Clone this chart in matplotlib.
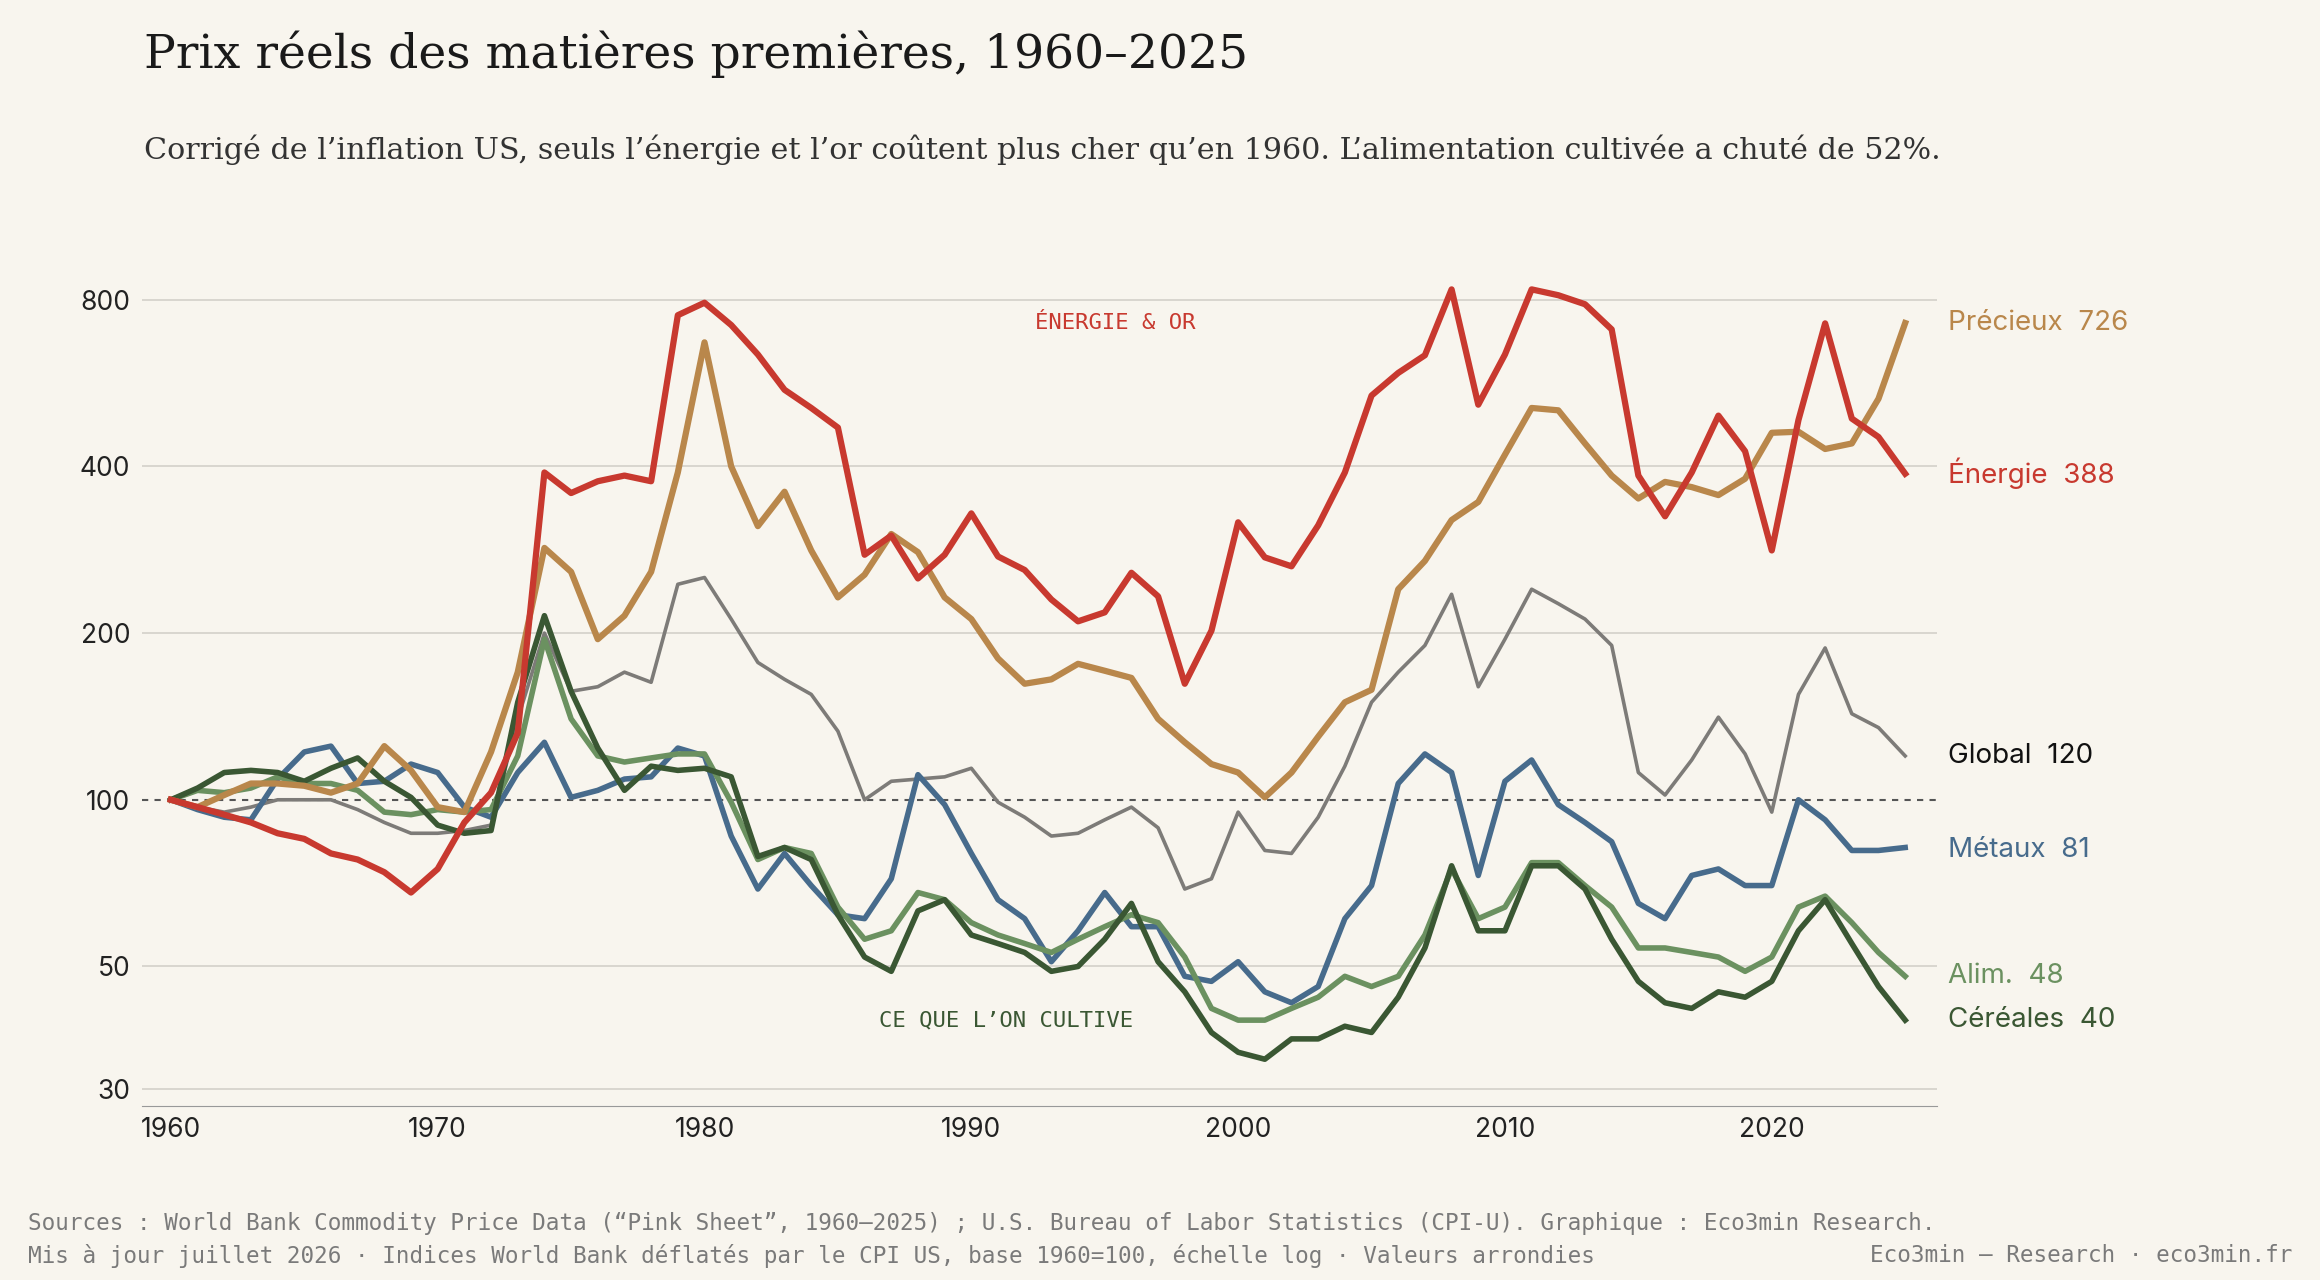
import matplotlib.pyplot as plt

years = list(range(1960, 2026))

energie = [100, 97, 94, 91, 87, 85, 80, 78, 74, 68, 75, 91, 103, 132, 390, 358, 376, 385, 376, 750,
           790, 720, 637, 550, 510, 470, 277, 300, 251, 277, 329, 275, 260, 230, 210, 218, 257, 233, 162, 202,
           317, 274, 264, 313, 390, 537, 590, 635, 835, 517, 637, 835, 815, 785, 707, 385, 325, 390, 494, 426,
           282, 485, 725, 488, 452, 388]
precieux = [100, 97, 102, 107, 107, 106, 103, 107, 125, 113, 97, 95, 122, 170, 285, 258, 195, 215, 258, 390,
            670, 400, 312, 360, 282, 232, 255, 302, 280, 232, 212, 180, 162, 165, 176, 171, 166, 140, 127, 116,
            112, 101, 112, 130, 150, 158, 240, 270, 320, 345, 420, 510, 505, 440, 385, 350, 375, 367, 355, 380,
            460, 462, 430, 440, 530, 726]
global_idx = [100, 97, 95, 97, 100, 100, 100, 96, 91, 87, 87, 88, 90, 140, 200, 157, 160, 170, 163, 245,
              252, 212, 177, 165, 155, 133, 100, 108, 109, 110, 114, 99, 93, 86, 87, 92, 97, 89, 69, 72,
              95, 81, 80, 93, 115, 150, 170, 190, 235, 160, 195, 240, 226, 212, 190, 112, 102, 118, 141, 121,
              95, 155, 188, 143, 135, 120]
metaux = [100, 96, 93, 92, 109, 122, 125, 107, 108, 116, 112, 97, 93, 112, 127, 101, 104, 109, 110, 124,
          120, 86, 69, 80, 70, 62, 61, 72, 111, 98, 80, 66, 61, 51, 58, 68, 59, 59, 48, 47,
          51, 45, 43, 46, 61, 70, 107, 121, 112, 73, 108, 118, 98, 91, 84, 65, 61, 73, 75, 70,
          70, 100, 92, 81, 81, 82]
alim = [100, 104, 103, 105, 110, 107, 107, 104, 95, 94, 96, 95, 96, 120, 195, 140, 120, 117, 119, 121,
        121, 99, 78, 82, 80, 64, 56, 58, 68, 66, 60, 57, 55, 53, 56, 59, 62, 60, 52, 42,
        40, 40, 42, 44, 48, 46, 48, 57, 75, 61, 64, 77, 77, 70, 64, 54, 54, 53, 52, 49,
        52, 64, 67, 60, 53, 48]
cereales = [100, 105, 112, 113, 112, 108, 114, 119, 108, 101, 90, 87, 88, 150, 215, 157, 124, 104, 115, 113,
            114, 110, 79, 82, 78, 62, 52, 49, 63, 66, 57, 55, 53, 49, 50, 56, 65, 51, 45, 38,
            35, 34, 37, 37, 39, 38, 44, 54, 76, 58, 58, 76, 76, 69, 56, 47, 43, 42, 45, 44,
            47, 58, 66, 55, 46, 40]

bg = '#f8f5ee'
c_en, c_pr, c_gl = '#c8392f', '#b9874b', '#7d7b78'
c_me, c_al, c_ce = '#476b8c', '#6b9160', '#3a5733'
sans = ['Inter', 'DejaVu Sans']
mono = 'DejaVu Sans Mono'

fig = plt.figure(figsize=(23.2, 12.8), dpi=100, facecolor=bg)
ax = fig.add_axes([0.061, 0.136, 0.774, 0.652], facecolor=bg)

ax.plot(years, global_idx, color=c_gl, lw=2.6)
ax.plot(years, metaux, color=c_me, lw=4)
ax.plot(years, alim, color=c_al, lw=4)
ax.plot(years, cereales, color=c_ce, lw=4)
ax.plot(years, precieux, color=c_pr, lw=4.5)
ax.plot(years, energie, color=c_en, lw=4.5)

ax.set_yscale('log')
ax.set_ylim(28, 900)
ax.set_xlim(1958.9, 2026.2)
ticks = [30, 50, 100, 200, 400, 800]
ax.set_yticks(ticks)
ax.set_yticklabels([str(t) for t in ticks])
ax.minorticks_off()
ax.set_xticks(range(1960, 2030, 10))
for t in ticks:
    if t != 100:
        ax.axhline(t, color='#d6d3cc', lw=1.3, zorder=0)
ax.axhline(100, color='#555555', lw=1.5, ls=(0, (3, 3)), zorder=0)
for s in ['top', 'right', 'left']:
    ax.spines[s].set_visible(False)
ax.spines['bottom'].set_color('#999999')
ax.tick_params(axis='both', length=0, labelsize=19, colors='#222222', pad=8)
for lab in ax.get_yticklabels() + ax.get_xticklabels():
    lab.set_family(sans)

labels = [('Précieux  726', 726, c_pr), ('Énergie  388', 388, c_en), ('Global  120', 120, '#111111'),
          ('Métaux  81', 81, c_me), ('Alim.  48', 48, c_al), ('Céréales  40', 40, c_ce)]
for txt, v, c in labels:
    ax.text(2026.6, v, txt, color=c, fontsize=20, family=sans, va='center', ha='left', clip_on=False)

ax.text(1995.4, 725, 'ÉNERGIE & OR', color=c_en, fontsize=16, family=mono, ha='center', va='center')
ax.text(1991.3, 40, 'CE QUE L\u2019ON CULTIVE', color=c_ce, fontsize=16, family=mono, ha='center', va='center')

fig.text(0.062, 0.958, 'Prix réels des matières premières, 1960\u20132025', fontsize=34,
         family='DejaVu Serif', color='#1a1a1a', va='center')
fig.text(0.062, 0.883, 'Corrigé de l\u2019inflation US, seuls l\u2019énergie et l\u2019or coûtent plus cher qu\u2019en 1960. '
         'L\u2019alimentation cultivée a chuté de 52%.', fontsize=21.7, family='DejaVu Serif',
         color='#333333', va='center')

fig.text(0.012, 0.044, 'Sources : World Bank Commodity Price Data (\u201cPink Sheet\u201d, 1960\u20132025) ; '
         'U.S. Bureau of Labor Statistics (CPI-U). Graphique : Eco3min Research.',
         fontsize=16.3, family=mono, color='#7a7a7a', va='center')
fig.text(0.012, 0.019, 'Mis à jour juillet 2026 \u00b7 Indices World Bank déflatés par le CPI US, base 1960=100, '
         'échelle log \u00b7 Valeurs arrondies', fontsize=16.3, family=mono, color='#7a7a7a', va='center')
fig.text(0.988, 0.019, 'Eco3min \u2014 Research \u00b7 eco3min.fr', fontsize=16.3, family=mono,
         color='#7a7a7a', va='center', ha='right')

fig.savefig('out.png', dpi=100, facecolor=bg)
